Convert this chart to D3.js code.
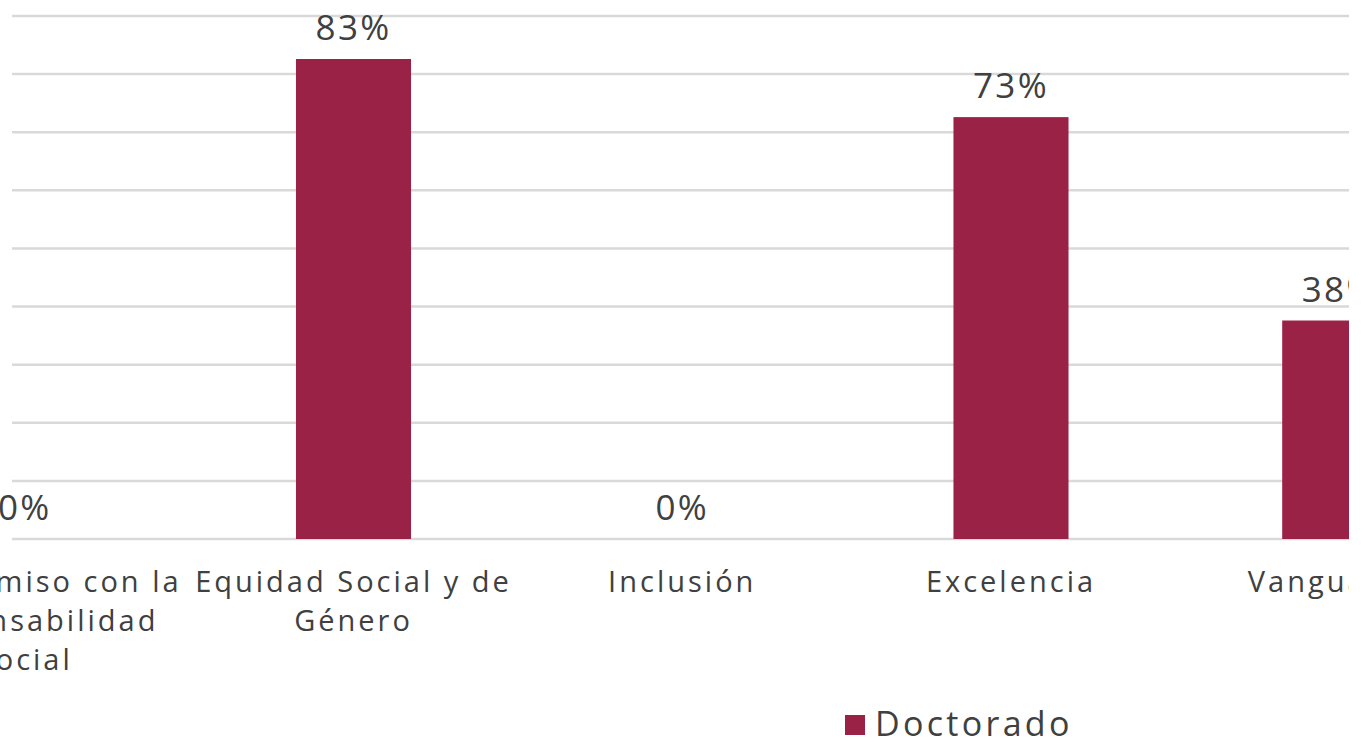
<!DOCTYPE html>
<html><head><meta charset="utf-8">
<script src="https://cdn.jsdelivr.net/npm/d3@7"></script>
<style>
html,body{margin:0;padding:0;background:#fff;overflow:hidden;}
text{font-family:"Open Sans",sans-serif;fill:#404040;}
</style></head>
<body><svg id="c" width="1366" height="742"></svg>
<script>
const categories = ["Compromiso con la Responsabilidad Social","Equidad Social y de Género","Inclusión","Excelencia","Vanguardia"];
const seriesName = "Doctorado";
const values = [0, 82.6, 0, 72.6, 37.6];
const yTicks = [0,10,20,30,40,50,60,70,80,90];

const svg = d3.select("#c");
const color = "#9B2247";
const x = d3.scaleBand().domain(categories).range([-139.6, 1504.1]).paddingInner(0.65).paddingOuter(0.325);
const y = d3.scaleLinear().domain([0,90]).range([539,16]);

svg.append("defs").append("clipPath").attr("id","clipR")
  .append("rect").attr("x",0).attr("y",0).attr("width",1349).attr("height",742);
const g = svg.append("g").attr("clip-path","url(#clipR)");

g.append("g").selectAll("line").data(yTicks).join("line")
  .attr("x1",12).attr("x2",1349)
  .attr("y1",d=>y(d)).attr("y2",d=>y(d))
  .attr("stroke","#d9d9d9").attr("stroke-width",2.5);

g.append("g").selectAll("rect").data(values).join("rect")
  .attr("x",(d,i)=>x(categories[i])).attr("width",x.bandwidth())
  .attr("y",d=>y(d)).attr("height",d=>y(0)-y(d))
  .attr("fill",color);

const fmt = d=>Math.round(d)+"%";
g.append("g").selectAll("text").data(values).join("text")
  .attr("x",(d,i)=>x(categories[i])+x.bandwidth()/2)
  .attr("y",d=>y(d)-19)
  .attr("text-anchor","middle")
  .style("font-size","35px").style("letter-spacing","2.3px")
  .text(fmt);

const LS = "3px";
const labG = g.append("g");
categories.forEach(c=>{
  const cx = x(c)+x.bandwidth()/2;
  const t = labG.append("text").attr("x",cx).attr("y",592).attr("text-anchor","middle")
    .style("font-size","29px").style("letter-spacing",LS);
  const words = c.split(" ");
  let lines = [], cur = [];
  const probe = labG.append("text").style("font-size","29px").style("letter-spacing",LS);
  words.forEach(w=>{
    const test = cur.concat([w]).join(" ");
    probe.text(test);
    if (probe.node().getComputedTextLength() > 328 && cur.length){ lines.push(cur.join(" ")); cur=[w]; }
    else cur.push(w);
  });
  lines.push(cur.join(" "));
  probe.remove();
  lines.forEach((l,i)=>{
    t.append("tspan").attr("x",cx).attr("dy", i===0?0:39).text(l);
  });
});

const leg = svg.append("g");
leg.append("rect").attr("x",845).attr("y",715).attr("width",20).attr("height",20).attr("fill",color);
leg.append("text").attr("x",875).attr("y",736).style("font-size",
"34px").style("letter-spacing","3.3px").text(seriesName);
</script></body></html>
